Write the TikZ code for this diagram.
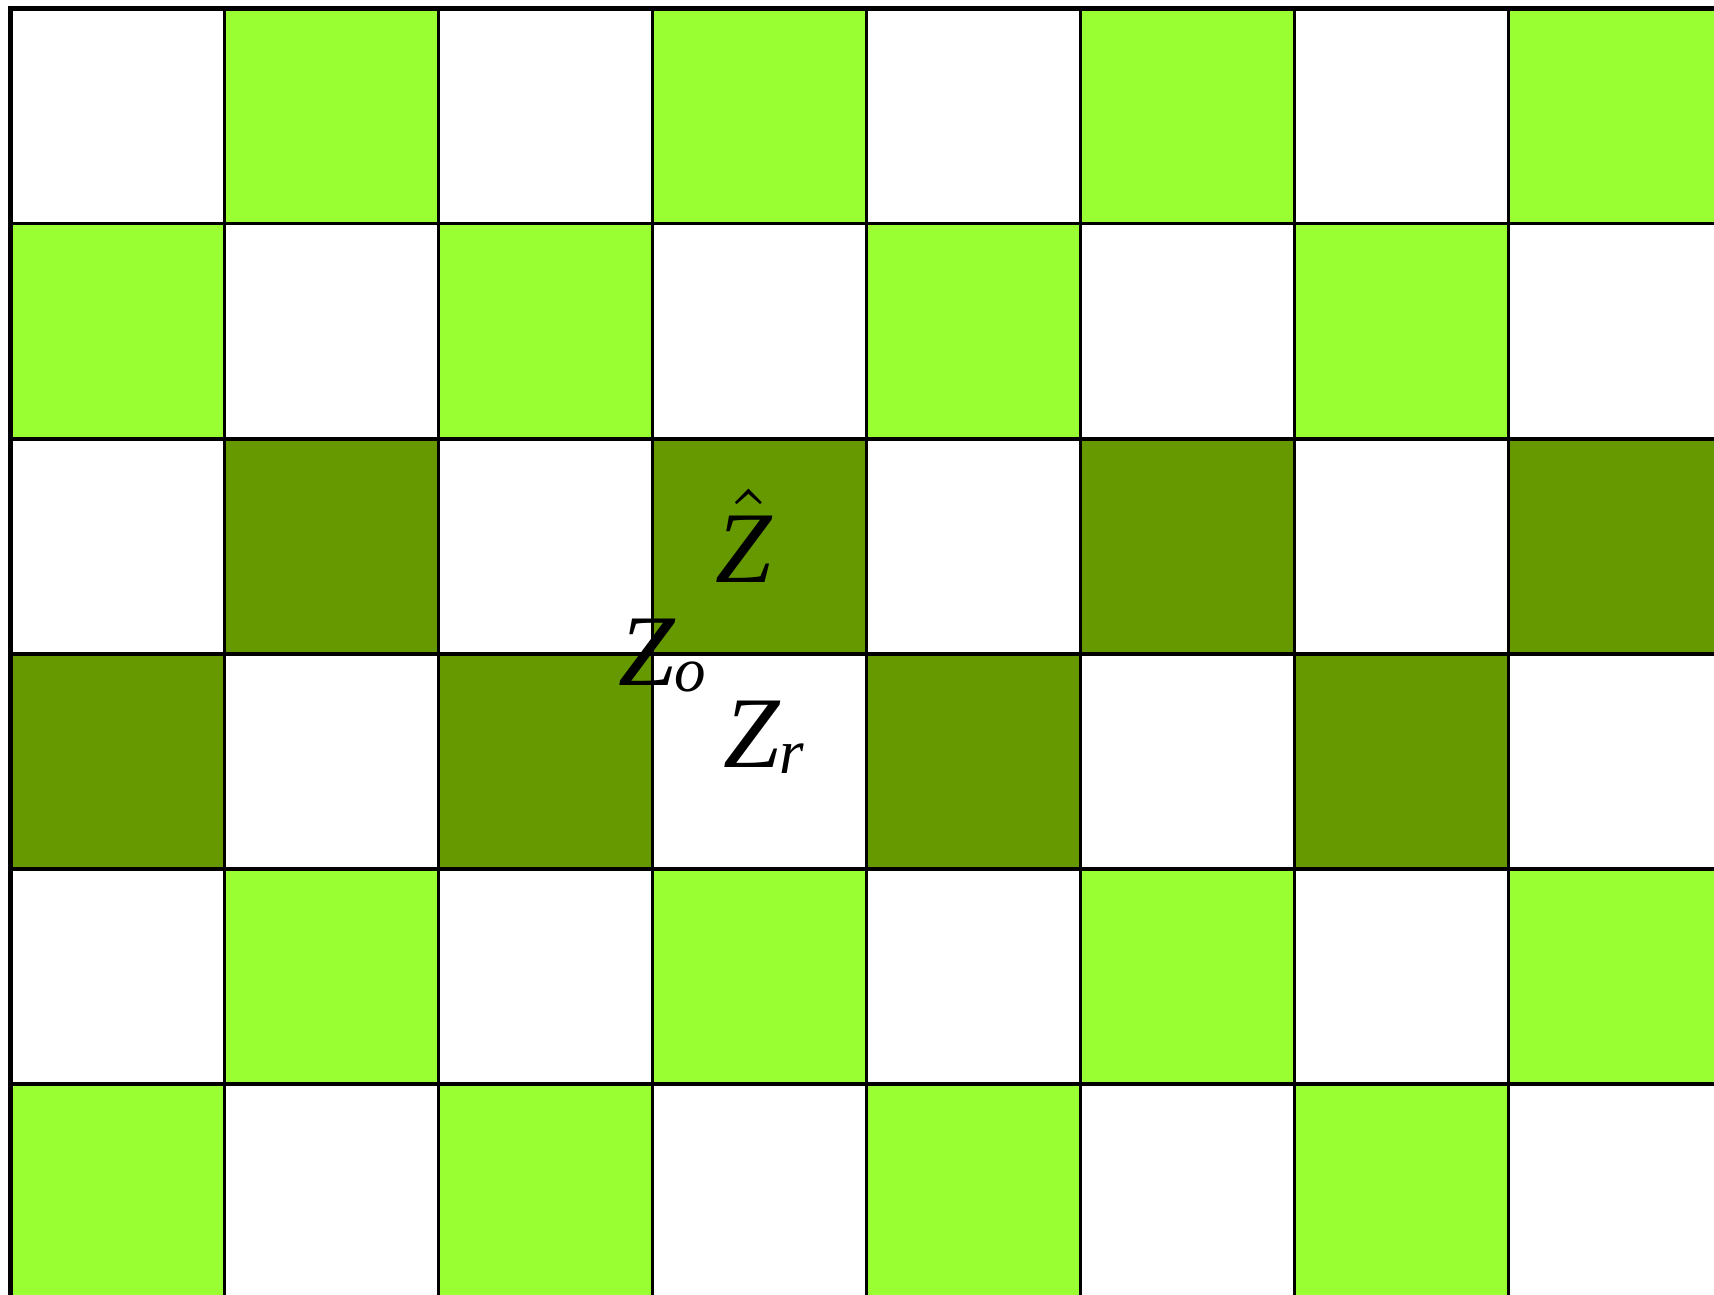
\documentclass[tikz,border=0pt]{standalone}
\usepackage{fontspec}
\setmainfont{Liberation Serif}
\usepackage{tikz}

\definecolor{verdechiaro}{RGB}{153,255,51}
\definecolor{verdescuro}{RGB}{102,153,0}

\newcommand{\pedice}[1]{\raisebox{-0.6pt}{\fontsize{6.2}{7}\selectfont #1}}

\begin{document}
\begin{tikzpicture}[etichetta/.style={anchor=base west, inner sep=0pt, scale=2.7, font=\itshape}]
        % Dimensioni
        \def\cx{2}       % larghezza di ogni casella
        \def\cy{2.0103}  % altezza di ogni casella
        \def\W{16}       % 8 caselle in orizzontale
        \def\H{12.062}   % 6 caselle in verticale

        % Finestra visibile (la scacchiera e' tagliata a destra e in basso)
        \useasboundingbox (-0.098,0.079) rectangle (15.92,-12.023);
        \clip (-0.098,0.079) rectangle (15.92,-12.023);

        % Caselle colorate (riga per riga, dall'alto verso il basso)
        \foreach \j/\inizio/\col in {0/1/verdechiaro, 1/0/verdechiaro,
                                     2/1/verdescuro, 3/0/verdescuro,
                                     4/1/verdechiaro, 5/0/verdechiaro}
          \foreach \k in {0,...,3}
            \fill[\col] ({(\inizio+2*\k)*\cx},{-\j*\cy}) rectangle ++(\cx,-\cy);

        % Griglia e bordo
        \foreach \i in {1,...,7}
          \draw[line width=1pt] (\i*\cx,0) -- (\i*\cx,-\H);
        \foreach \j in {1,...,5}
          \draw[line width=1pt] (0,-\j*\cy) -- (\W,-\j*\cy);
        \draw[line width=1.3pt] (0,0) rectangle (\W,-\H);

        % Etichette
        \node[etichetta] (zhat) at (6.565,-5.360) {$\skew{2}{\hat}{\mbox{\itshape Z}}$};
        \node[etichetta] (zo) at (5.660,-6.323) {Z\pedice{o}};
        \node[etichetta] (zr) at (6.640,-7.089) {Z\pedice{r}};

    \end{tikzpicture}
\end{document}
